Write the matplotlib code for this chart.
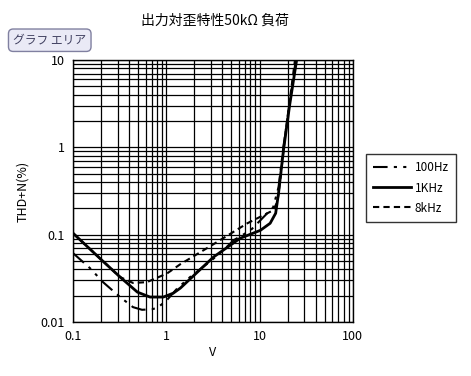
import numpy as np
import matplotlib.pyplot as plt
from matplotlib.ticker import FixedLocator, LogLocator, NullFormatter

plt.rcParams['font.family'] = ['Noto Sans CJK JP', 'DejaVu Sans']

# data
v_100 = [0.1, 0.152, 0.21, 0.32, 0.44, 0.55, 0.7, 0.8, 1.0, 1.3, 1.8, 3.0, 4.1, 5.3, 8.0,
         14.0, 16.0, 18.0, 21.0, 24.5]
thd_100 = [0.0615, 0.0414, 0.0286, 0.0193, 0.0148, 0.0138, 0.014, 0.0145, 0.0175, 0.024,
           0.0327, 0.05, 0.0665, 0.0866, 0.112, 0.206, 0.35, 1.0, 3.2, 10.0]

v_1k = [0.1, 0.2, 0.32, 0.49, 0.67, 0.93, 1.19, 1.42, 1.68, 3.2, 6.2, 10.2, 13.0, 14.9,
        16.0, 18.0, 21.0, 25.0]
thd_1k = [0.104, 0.052, 0.0327, 0.022, 0.0193, 0.0193, 0.0214, 0.0245, 0.029, 0.0553,
          0.091, 0.112, 0.135, 0.176, 0.3, 0.9, 3.0, 10.0]

v_8k = [0.1, 0.2, 0.32, 0.44, 0.62, 1.02, 1.42, 3.1, 7.4, 14.0, 15.6, 17.0, 19.0, 21.5, 24.0]
thd_8k = [0.104, 0.052, 0.0327, 0.028, 0.0286, 0.036, 0.046, 0.076, 0.135, 0.19, 0.24,
          0.5, 1.5, 4.0, 10.0]

fig = plt.figure(figsize=(4.71, 3.76), dpi=100)
ax = fig.add_axes([0.155, 0.1436, 0.594, 0.6968])

ax.plot(v_100, thd_100, 'k', linestyle=(0, (7, 3, 1.5, 3, 1.5, 3)), linewidth=1.5, label='100Hz')
ax.plot(v_1k, thd_1k, 'k', linestyle='-', linewidth=2, label='1KHz')
ax.plot(v_8k, thd_8k, 'k', linestyle=(0, (3, 2)), linewidth=1.5, label='8kHz')

ax.set_xscale('log')
ax.set_yscale('log')
ax.set_xlim(0.1, 100)
ax.set_ylim(0.01, 10)

ax.xaxis.set_major_locator(FixedLocator([0.1, 1, 10, 100]))
ax.yaxis.set_major_locator(FixedLocator([0.01, 0.1, 1, 10]))
ax.xaxis.set_minor_locator(LogLocator(base=10, subs=np.arange(2, 10)))
ax.yaxis.set_minor_locator(LogLocator(base=10, subs=np.arange(2, 10)))
ax.xaxis.set_minor_formatter(NullFormatter())
ax.yaxis.set_minor_formatter(NullFormatter())
ax.set_xticklabels(['0.1', '1', '10', '100'])
ax.set_yticklabels(['0.01', '0.1', '1', '10'])
ax.tick_params(which='both', length=0, labelsize=9, pad=6)

ax.grid(True, which='both', color='black', linewidth=0.9)
for s in ax.spines.values():
    s.set_linewidth(1)

ax.set_xlabel('V', fontsize=9, labelpad=2)
ax.set_ylabel('THD+N(%)', fontsize=9, labelpad=8)
fig.text(0.457, 0.945, '出力対歪特性50kΩ 負荷', ha='center', va='center', fontsize=10)

fig.text(0.028, 0.893, 'グラフ エリア', ha='left', va='center', fontsize=8.5, color='#404060',
         bbox=dict(boxstyle='round,pad=0.4', facecolor='#eaeaf6', edgecolor='#8080a0'))

leg = fig.legend(loc='center', bbox_to_anchor=(0.873, 0.50), fontsize=8.5, frameon=True,
                 fancybox=False, edgecolor='black', handlelength=3.2, handletextpad=0.3,
                 borderpad=0.6, labelspacing=0.6)
leg.get_frame().set_linewidth(1)

fig.savefig('out.png', dpi=100)
